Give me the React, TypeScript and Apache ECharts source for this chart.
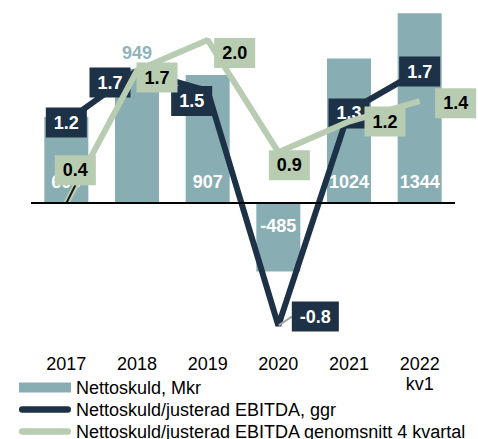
import React, { useEffect, useRef } from "react";
import * as echarts from "echarts";

const categories = ["2017", "2018", "2019", "2020", "2021", "2022\nkv1"];
const nettoskuld = [609, 949, 907, -485, 1024, 1344];
const ebitdaGgr = [1.2, 1.7, 1.5, -0.8, 1.3, 1.7];
const ebitdaAvg = [0.4, 1.7, 2.0, 0.9, 1.2, 1.4];
const seriesNames = [
  "Nettoskuld, Mkr",
  "Nettoskuld/justerad EBITDA, ggr",
  "Nettoskuld/justerad EBITDA genomsnitt 4 kvartal",
];

const FONT = 'Arial, "Liberation Sans", sans-serif';
const BAR = "#88adb3";
const NAVY = "#1e3247";
const GREEN = "#b8ccb2";

const navyOffsets = [[0, 1], [-27, 12], [-16, 10], [37, -9], [0, 2], [0, 1]];
const greenOffsets = [[9, -33], [20, 7], [27, 13], [11, 13], [36, 0], [36, 2]];

const capsule = "path://M3.5,0 L51.5,0 A3.5,3.5 0 0 1 51.5,7 L3.5,7 A3.5,3.5 0 0 1 3.5,0 Z";

const fmt1 = (p: any) => Number(p.value).toFixed(1);

export default function App() {
  const ref = useRef<HTMLDivElement>(null);
  useEffect(() => {
    if (!ref.current) return;
    const chart = echarts.init(ref.current, null, { renderer: "svg" });
    const barData = nettoskuld.map((v, i) => {
      if (v < 0) {
        return { value: v, label: { position: "insideTop", distance: 14 } };
      }
      if (i === 1) {
        return { value: v, label: { position: "top", distance: 7, color: "#8fb4ba" } };
      }
      return { value: v };
    });
    const navyData = ebitdaGgr.map((v, i) =>
      i === 3 ? { value: v, labelLine: { show: true, lineStyle: { color: "#a6a6a6", width: 2 } } } : { value: v }
    );
    const greenData = ebitdaAvg.map((v, i) =>
      i === 0 ? { value: v, labelLine: { show: true, lineStyle: { color: "#1a1a1a", width: 2 } } } : { value: v }
    );
    chart.setOption({
      animation: false,
      textStyle: { fontFamily: FONT },
      grid: { left: 31, right: 23, top: 5, bottom: 94, containLabel: false },
      legend: {
        orient: "vertical",
        left: 14,
        top: 373,
        height: 90,
        itemWidth: 52,
        itemHeight: 10,
        itemGap: 3,
        textStyle: { fontSize: 18, color: "#000", fontFamily: FONT, lineHeight: 19 },
        data: [
          { name: seriesNames[0], icon: "rect" },
          { name: seriesNames[1], icon: capsule },
          { name: seriesNames[2], icon: capsule },
        ],
      },
      xAxis: {
        type: "category",
        data: categories,
        axisLine: { show: false, onZero: false },
        axisTick: { show: false },
        axisLabel: { fontSize: 18, color: "#000", margin: 9, lineHeight: 20, fontFamily: FONT },
      },
      yAxis: [
        { type: "value", min: -1005.7, max: 1402.3, show: false, splitLine: { show: false } },
        { type: "value", min: -0.99, max: 2.343, show: false, splitLine: { show: false } },
      ],
      series: [
        {
          name: seriesNames[0],
          type: "bar",
          yAxisIndex: 0,
          barWidth: 44,
          data: barData,
          itemStyle: { color: BAR },
          label: {
            show: true,
            position: "insideBottom",
            distance: 12,
            color: "#fff",
            fontSize: 18,
            fontWeight: "bold",
            fontFamily: FONT,
          },
          markLine: {
            silent: true,
            symbol: ["none", "none"],
            label: { show: false },
            lineStyle: { color: "#000", width: 2, type: "solid" },
            data: [{ yAxis: 0 }],
          },
        },
        {
          name: seriesNames[2],
          type: "line",
          yAxisIndex: 1,
          data: greenData,
          symbol: "circle",
          symbolSize: 1,
          lineStyle: { color: GREEN, width: 6 },
          itemStyle: { color: GREEN },
          z: 3,
          label: {
            show: true,
            position: "inside",
            formatter: fmt1,
            color: "#000",
            backgroundColor: GREEN,
            padding: [6, 8],
            fontSize: 18,
            lineHeight: 18,
            fontWeight: "bold",
            fontFamily: FONT,
          },
          labelLine: { show: false },
          labelLayout: (p: any) => ({ dx: greenOffsets[p.dataIndex][0], dy: greenOffsets[p.dataIndex][1] }),
        },
        {
          name: seriesNames[1],
          type: "line",
          yAxisIndex: 1,
          data: navyData,
          symbol: "circle",
          symbolSize: 1,
          lineStyle: { color: NAVY, width: 6 },
          itemStyle: { color: NAVY },
          z: 2,
          label: {
            show: true,
            position: "inside",
            formatter: fmt1,
            color: "#fff",
            backgroundColor: NAVY,
            padding: [6, 8],
            fontSize: 18,
            lineHeight: 18,
            fontWeight: "bold",
            fontFamily: FONT,
          },
          labelLine: { show: false },
          labelLayout: (p: any) => ({ dx: navyOffsets[p.dataIndex][0], dy: navyOffsets[p.dataIndex][1] }),
        },
      ],
    });
    return () => chart.dispose();
  }, []);
  return (
    <div
      ref={ref}
      style={{ position: "fixed", left: 0, top: 0, width: 478, height: 439, background: "#fff" }}
    />
  );
}
